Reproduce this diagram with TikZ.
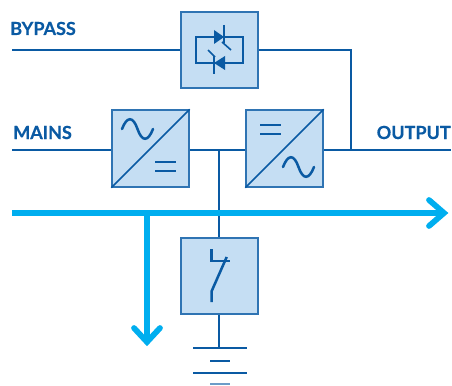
\documentclass[tikz,border=0pt]{standalone}
\usepackage{fontspec}
\setmainfont{Lato}[BoldFeatures={FakeBold=0.5}]
\usepackage{tikz}
\definecolor{upsdark}{HTML}{0A5AA3}
\definecolor{upsedge}{HTML}{2F74B3}
\definecolor{upsfill}{HTML}{C5DEF3}
\definecolor{upscyan}{HTML}{00AEEF}
\tikzset{
	upsbox/.style={draw=upsedge,fill=upsfill,line width=1.3pt,minimum size=57.5pt,inner sep=0pt},
	upswire/.style={draw=upsdark,line width=1.6pt},
	upssym/.style={draw=upsdark,line width=1.9pt},
	upsthin/.style={draw=upsdark,line width=1.2pt},
	upsflow/.style={draw=upscyan,line width=4.3pt},
	upslabel/.style={text=upsdark,font=\fontsize{13.5}{15}\selectfont\bfseries,inner sep=0pt}
}
\begin{document}
\begin{tikzpicture}[x=0.75pt,y=-0.75pt]
	\useasboundingbox (0,0) rectangle (452,385);

	% free ends
	\coordinate (bypassin) at (12,50);
	\coordinate (mainsin) at (12,150);
	\coordinate (outend) at (451,150);
	\coordinate (outjoin) at (351,150);
	\coordinate (dcbus) at (219,150);
	\coordinate (earth) at (219,348);

	% wires
	\node[upsbox] (bypassbox) at (219.5,50) {};
	\node[upsbox] (rectbox) at (150.5,148.5) {};
	\node[upsbox] (invbox) at (284.5,148.5) {};
	\node[upsbox] (switchbox) at (219.5,276) {};

	\draw[upswire] (bypassin) -- (bypassbox);
	\draw[upswire] (bypassbox) -| (outjoin);
	\draw[upswire] (mainsin) -- (mainsin -| rectbox.west);
	\draw[upswire] (dcbus -| rectbox.east) -- (dcbus -| invbox.west);
	\draw[upswire] (outjoin -| invbox.east) -- (outend);
	\draw[upswire] (dcbus) -- (dcbus |- switchbox.north);
	\draw[upswire] (earth |- switchbox.south) -- (earth);

	% boxes again on top of the wires
	\node[upsbox] at (bypassbox) {};
	\node[upsbox] at (rectbox) {};
	\node[upsbox] at (invbox) {};
	\node[upsbox] at (switchbox) {};

	\draw[upsthin] (rectbox.south west) -- (rectbox.north east);
	\draw[upsthin] (invbox.south west) -- (invbox.north east);

	% sine and equals, rectifier
	\draw[upssym,line cap=round] (122,129) .. controls (127,116) and (133,116) .. (137.5,129) .. controls (142,142) and (148,142) .. (153,129);
	\draw[upssym] (155,162) -- +(21,0);
	\draw[upssym] (155,171) -- +(21,0);

	% sine and equals, inverter
	\draw[upssym] (260,125) -- +(21,0);
	\draw[upssym] (260,134) -- +(21,0);
	\draw[upssym,line cap=round] (283,167) .. controls (288,154) and (294,154) .. (298.5,167) .. controls (303,180) and (309,180) .. (314,167);

	% static bypass
	\draw[upssym] (196,37) rectangle (243,63);
	\fill[upsdark] (214,30) -- (224,37) -- (214,44) -- cycle;
	\fill[upsdark] (225,56) -- (214,63) -- (225,70) -- cycle;
	\draw[upsthin] (224,25) -- (224,43);
	\draw[upsthin] (214,56) -- (214,74);
	\draw[upsthin] (222,42) -- (231,50);
	\draw[upsthin] (208,50) -- (215,57);

	% switch
	\draw[upssym] (211.7,249) -- (211.7,261) -- (230,261);
	\draw[upssym] (226.7,257) -- (211.7,291) -- (211.7,302);

	% earth
	\draw[upsthin] (193,348) -- (247,348);
	\draw[upssym] (210,361) -- (230,361);
	\draw[upsthin] (193,373) -- (247,373);
	\draw[upsthin,opacity=.6] (210,384) -- (230,384);

	% flow
	\coordinate (flowin) at (12,213);
	\coordinate (flowend) at (444,213);
	\coordinate (flowjoin) at (147,213);
	\coordinate (flowdown) at (147,342);
	\draw[upsflow] (flowin) -- (flowend);
	\draw[upsflow] (flowjoin) -- (flowdown);
	\draw[upsflow,line cap=round,line join=miter] (429,200) -- (flowend) -- (429,226);
	\draw[upsflow,line cap=round,line join=miter] (134,328) -- (flowdown) -- (160,328);

	\node[upslabel,anchor=base west] (bypasslabel) at (10,35) {BYPASS};
	\node[upslabel,anchor=base west] (mainslabel) at (13,139) {MAINS};
	\node[upslabel,anchor=base east] (outputlabel) at (451,139) {OUTPUT};
\end{tikzpicture}
\end{document}
